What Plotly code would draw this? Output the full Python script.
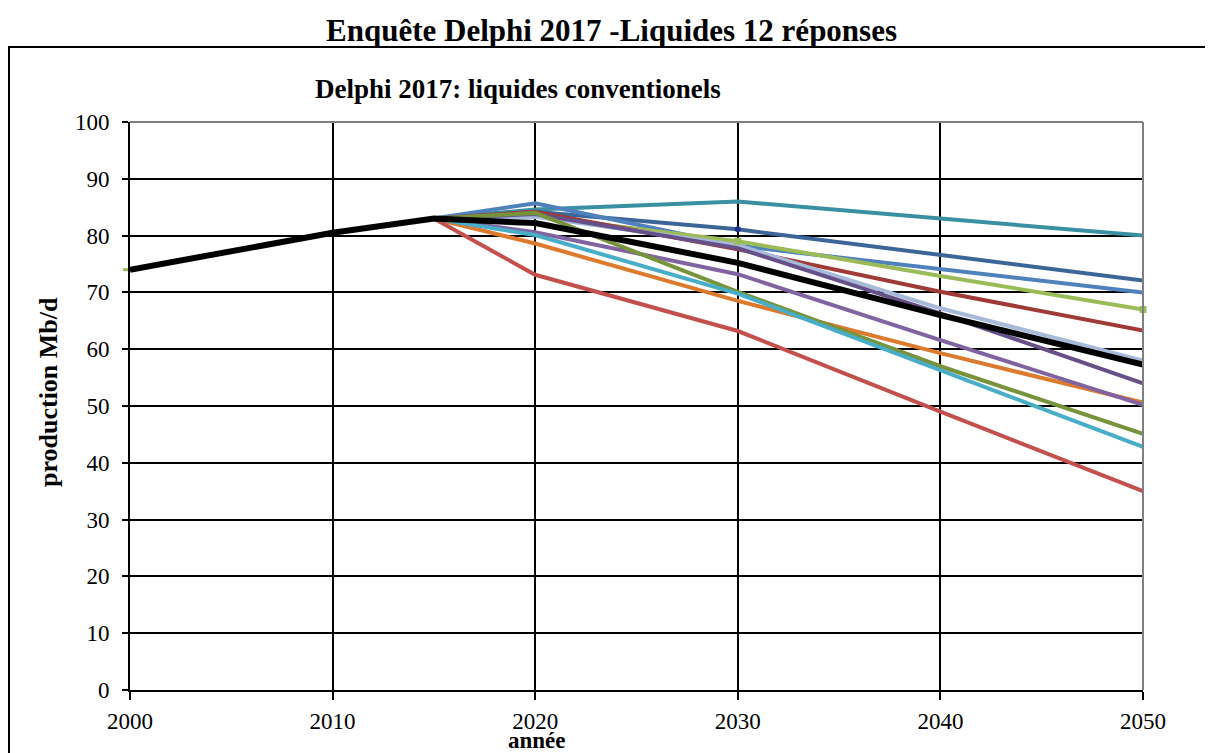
import plotly.graph_objects as go

years_hist = [2000, 2010, 2015, 2020, 2030, 2040, 2050]
years = [2015, 2020, 2030, 2040, 2050]

names = ["r1", "r2", "r3", "r4", "r5", "r6", "r7", "r8", "r9", "r10", "r11", "r12"]
colors = ["#3A8FA2", "#3D6698", "#4F81BD", "#9BBB59", "#A03A37", "#A7BADA",
          "#66508A", "#DC7A2E", "#8064A2", "#77933C", "#48AEC8", "#C4504D"]
values = [
    [83, 84.6, 86.0, 83.0, 80.0],   # teal
    [83, 84.2, 81.1, 76.6, 72.1],   # dark blue
    [83, 85.7, 78.2, 74.1, 70.0],   # blue
    [83, 83.4, 79.0, 72.9, 67.0],   # light green
    [83, 84.2, 77.6, 70.1, 63.3],   # dark red
    [83, 83.3, 78.3, 67.2, 58.0],   # lavender
    [83, 83.8, 77.8, 66.3, 54.0],   # dark purple
    [83, 78.6, 68.5, 59.3, 50.6],   # orange
    [83, 80.6, 73.2, 61.6, 50.2],   # purple
    [83, 84.0, 70.1, 57.0, 45.1],   # olive
    [83, 80.1, 69.8, 56.3, 42.8],   # cyan
    [83, 73.1, 63.2, 49.0, 35.0],   # red
]
mean_values = [74, 80.5, 83, 82.2, 75.2, 66.0, 57.3]

x_ticks = [2000, 2010, 2020, 2030, 2040, 2050]
y_ticks = [0, 10, 20, 30, 40, 50, 60, 70, 80, 90, 100]

FONT = "Liberation Serif, Times New Roman, serif"

fig = go.Figure()

# light green start marker at 2000
fig.add_trace(go.Scatter(x=[2000], y=[mean_values[0]], mode="markers",
                         marker=dict(symbol="line-ew", size=10, line=dict(color="#9BBB59", width=3)),
                         showlegend=False, hoverinfo="skip", cliponaxis=False))

for n, c, v in zip(names, colors, values):
    fig.add_trace(go.Scatter(x=years, y=v, mode="lines", name=n,
                             line=dict(color=c, width=4), showlegend=False, cliponaxis=False))

# markers seen on some series
fig.add_trace(go.Scatter(x=[2030], y=[values[1][2]], mode="markers",
                         marker=dict(color="#1F2F8C", size=6), showlegend=False))
fig.add_trace(go.Scatter(x=[2030, 2050], y=[values[3][2], values[3][4]], mode="markers",
                         marker=dict(color="#9BBB59", size=7, symbol="square"),
                         showlegend=False, cliponaxis=False))

fig.add_trace(go.Scatter(x=years_hist, y=mean_values, mode="lines", name="moyenne",
                         line=dict(color="black", width=6), showlegend=False, cliponaxis=False))

# frame
fig.add_shape(type="rect", xref="paper", yref="paper",
              x0=(9 - 130) / 1013, x1=(1240 - 130) / 1013,
              y0=(690 - 780) / 568, y1=(690 - 47) / 568,
              line=dict(color="black", width=2), fillcolor="rgba(0,0,0,0)", layer="below")

def note(text, px, py, size, angle=0):
    fig.add_annotation(text=text, xref="paper", yref="paper",
                       x=(px - 130) / 1013, y=(690 - py) / 568,
                       xanchor="center", yanchor="middle", showarrow=False, textangle=angle,
                       font=dict(family=FONT, size=size, color="black"))

note("<b>Enquête Delphi 2017 -Liquides 12 réponses</b>", 611, 30, 31)
note("<b>Delphi 2017: liquides conventionels</b>", 518, 89, 27)
note("<b>production Mb/d</b>", 48, 392, 26, -90)
note("<b>année</b>", 537, 740, 23)

fig.update_xaxes(range=[2000, 2050], tickvals=x_ticks, ticks="outside", ticklen=8, tickwidth=2,
                 tickcolor="black", showline=True, linecolor="black", linewidth=2,
                 showgrid=True, gridcolor="black", gridwidth=2, zeroline=False,
                 ticklabelstandoff=1,
                 tickfont=dict(family=FONT, size=23, color="black"), mirror=False)
fig.update_yaxes(range=[0, 100], tickvals=y_ticks, ticks="outside", ticklen=6, tickwidth=2,
                 tickcolor="black", showline=True, linecolor="black", linewidth=2,
                 showgrid=True, gridcolor="black", gridwidth=2, zeroline=False,
                 ticklabelstandoff=8,
                 tickfont=dict(family=FONT, size=23, color="black"))

# gray top and right borders
fig.add_shape(type="line", xref="paper", yref="paper", x0=0, x1=1, y0=1, y1=1,
              line=dict(color="#808080", width=2))
fig.add_shape(type="line", xref="paper", yref="paper", x0=1, x1=1, y0=0, y1=1,
              line=dict(color="#808080", width=2))

fig.update_layout(width=1205, height=745, margin=dict(l=122, r=70, t=114, b=63),
                  paper_bgcolor="white", plot_bgcolor="white",
                  font=dict(family=FONT, color="black"))

fig.write_html("out.html")
